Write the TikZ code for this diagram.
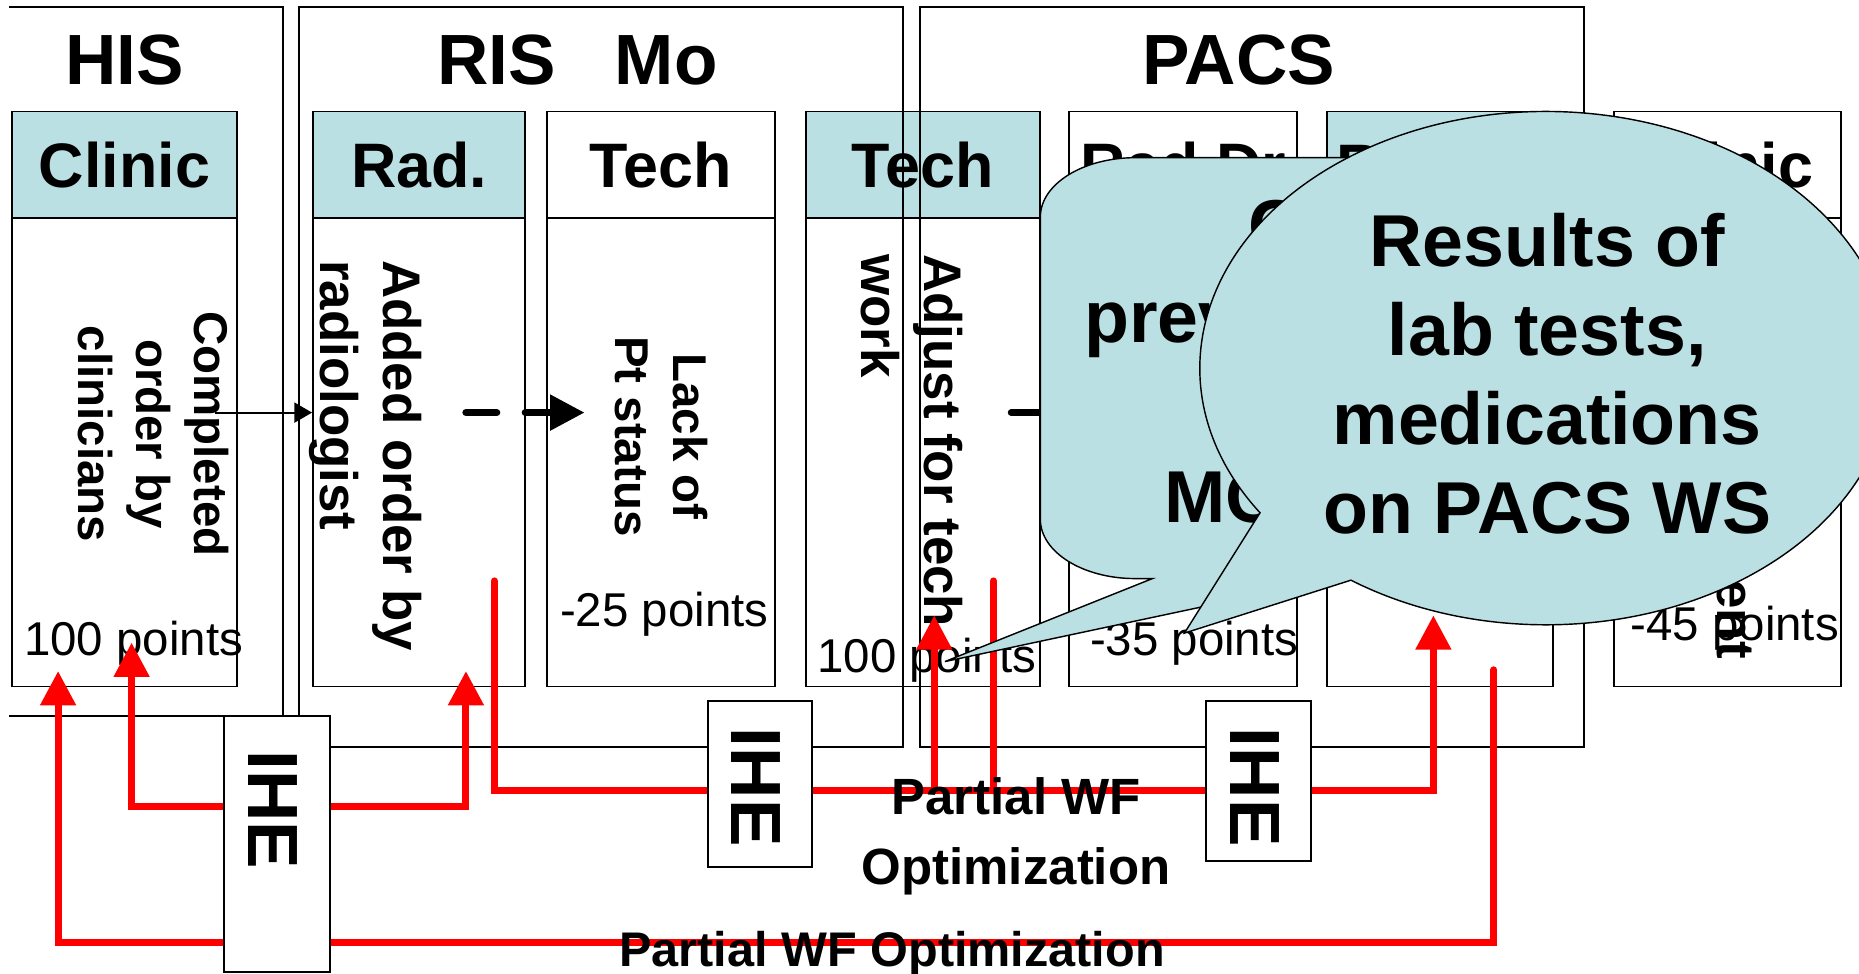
\documentclass[tikz,border=0pt]{standalone}
\usepackage{fontspec}
\setmainfont{Liberation Sans}
\usetikzlibrary{arrows.meta}
\definecolor{paleblue}{RGB}{187,224,227}

\begin{document}
\begin{tikzpicture}[x=0.5pt,y=-0.5pt,
  >={Triangle[length=14.5pt,width=14.5pt]},
  box/.style={draw,line width=0.8pt,inner sep=0pt},
  head/.style={box,minimum height=45pt,font=\bfseries\fontsize{26.5}{30}\selectfont},
  headtxt/.style={inner sep=0pt,font=\bfseries\fontsize{26.5}{30}\selectfont},
  body/.style={box,fill=white,minimum height=197.5pt},
  frame/.style={line width=0.8pt},
  title/.style={anchor=base,inner sep=0pt,font=\bfseries\fontsize{30}{36}\selectfont},
  vtext/.style={rotate=-90,inner sep=0pt},
  pts/.style={anchor=base west,inner sep=0pt,font=\fontsize{20}{24}\selectfont},
  flow/.style={red,line width=3pt,line cap=round},
  dashflow/.style={line width=3pt,line cap=round,dash pattern=on 13pt off 12pt,->},
  ihe/.style={box,fill=white},
  ihetxt/.style={vtext,font=\bfseries\fontsize{30}{36}\selectfont},
  wflabel/.style={inner sep=0pt,font=\bfseries\fontsize{21.5}{29.5}\selectfont},
  bubble/.style={draw,line width=0.6pt,fill=paleblue},
  calltxt/.style={inner sep=0pt,font=\bfseries\fontsize{31}{37.5}\selectfont}]
\useasboundingbox (0,0) rectangle (1568,821);

% columns: head, body
\node[head,fill=paleblue,minimum width=95pt] (clinichead) at (105,139) {Clinic};
\node[body,minimum width=95pt] (clinicbody) at (105,381.5) {};
\node[head,fill=paleblue,minimum width=89.5pt] (radhead) at (353.5,139) {Rad.};
\node[body,minimum width=89.5pt] (radbody) at (353.5,381.5) {};
\node[head,fill=white,minimum width=96.5pt] (techhead) at (557.5,139) {Tech};
\node[body,minimum width=96.5pt] (techbody) at (557.5,381.5) {};
\node[head,fill=paleblue,minimum width=98.5pt] (techbhead) at (778.5,139) {Tech};
\node[body,minimum width=98.5pt] (techbbody) at (778.5,381.5) {};
\node[head,fill=white,minimum width=96pt] (raddrhead) at (998,139) {Rad.Dr};
\node[body,minimum width=96pt] (raddrbody) at (998,381.5) {};
\node[head,fill=paleblue,minimum width=95.5pt] (rdrhead) at (1214.5,139) {};
\node[headtxt,anchor=base west] (rdrfrag) at (1127,159) {R};
\node[body,minimum width=95.5pt] (rdrbody) at (1214.5,381.5) {};
\node[head,fill=white,minimum width=96pt] (clinicbhead) at (1457,139) {Clinic};
\node[body,minimum width=96pt] (clinicbbody) at (1457,381.5) {};

% texts in the columns
\node[vtext,align=center,font=\bfseries\fontsize{20}{24.4}\selectfont] (cmpltxt) at (129.5,366) {Completed\\order by\\clinicians};
\node[vtext,align=left,anchor=west,font=\bfseries\fontsize{22.3}{26.5}\selectfont] (addtxt) at (308,219) {Added order by\\radiologist};
\node[vtext,align=center,font=\bfseries\fontsize{20}{24.65}\selectfont] (lacktxt) at (558,368) {Lack of\\Pt status};
\node[vtext,align=left,anchor=west,font=\bfseries\fontsize{22.3}{26.5}\selectfont] (adjtxt) at (769,214) {Adjust for tech\\work};
\node[vtext,anchor=base east,font=\bfseries\fontsize{22.3}{26}\selectfont] (entfrag) at (1449,556) {ent};
\node[pts] (clinicpts) at (20,553) {100 points};
\node[pts] (techpts) at (472,528) {-25 points};
\node[pts] (techbpts) at (689,567) {100 points};
\node[pts] (raddrpts) at (919,553) {-35 points};
\node[pts] (clinicbpts) at (1375,540) {-45 points};

% systems
\draw[frame] (8,6) -- (239,6) -- (239,604) -- (8,604);
\draw[frame] (252,6) rectangle (762,630);
\draw[frame] (776,6) rectangle (1336,630);
\node[title] (histitle) at (105,71) {HIS};
\node[title] (ristitle) at (487,71) {RIS~~~Mo};
\node[title] (pacstitle) at (1045,71) {PACS};

% black arrows
\coordinate (cmpl) at (181,348);
\draw[line width=0.8pt,-{Triangle[length=7.5pt,width=8.5pt]}] (cmpl) -- (cmpl -| radbody.west);
\coordinate (dash1) at (393,348);
\coordinate (dash2) at (493,348);
\draw[dashflow] (dash1) -- (dash2);
\coordinate (dash3) at (853,348);
\coordinate (dash4) at (950,348);
\draw[dashflow] (dash3) -- (dash4);

% red flows
\coordinate (fa1) at (111,542);
\coordinate (fa2) at (111,680);
\coordinate (fa3) at (393,680);
\coordinate (fa4) at (393,566);
\draw[flow,<->] (fa1) -- (fa2) -- (fa3) -- (fa4);
\coordinate (fb1) at (49,566);
\coordinate (fb2) at (49,795);
\coordinate (fb3) at (1260,795);
\coordinate (fb4) at (1260,565);
\draw[flow,<-] (fb1) -- (fb2) -- (fb3) -- (fb4);
\coordinate (fc1) at (417,490);
\coordinate (fc2) at (417,667);
\coordinate (fc3) at (1209,667);
\coordinate (fc4) at (1209,519);
\draw[flow,->] (fc1) -- (fc2) -- (fc3) -- (fc4);
\coordinate (fd1) at (838,490);
\draw[flow] (fd1) -- (fd1 |- fc2);
\coordinate (fe1) at (788,519);
\draw[flow,<-] (fe1) -- (fe1 |- fc2);

% IHE boxes
\node[ihe,minimum width=44.5pt,minimum height=108pt] (ihehis) at (233.5,712) {};
\node[ihetxt] (ihehistxt) at (230,683) {IHE};
\node[ihe,minimum width=44pt,minimum height=70pt] (iheris) at (641,661) {};
\node[ihetxt] (iheristxt) at (638,664) {IHE};
\node[ihe,minimum width=44.5pt,minimum height=67.5pt] (ihepacs) at (1061.5,658.5) {};
\node[ihetxt] (ihepacstxt) at (1058.5,664) {IHE};

\node[wflabel,align=center] (wfpart) at (857,705.5) {Partial WF\\Optimization};
\node[wflabel,anchor=base west,font=\bfseries\fontsize{20.5}{24}\selectfont] (wffull) at (522,815) {Partial WF Optimization};

% callouts
\draw[bubble] (972,488) -- (797,558) -- (1126,488) -- (1220,488)
  arc[start angle=90,end angle=0,x radius=80,y radius=50] -- (1300,183)
  arc[start angle=0,end angle=-90,x radius=80,y radius=50] -- (957.5,133)
  arc[start angle=-90,end angle=-180,x radius=80,y radius=50] -- (877.5,438)
  arc[start angle=180,end angle=90,x radius=80,y radius=50] -- cycle;
\node[calltxt,anchor=base west] (cfrag) at (1053,212) {C};
\node[calltxt,anchor=base west] (prevfrag) at (914,289) {prev};
\node[calltxt,anchor=base west] (mcfrag) at (982,441) {MC};

\coordinate (labc) at (1304,310.5);
\draw[bubble] (labc) ++(145.7:292 and 216.5)
  arc[start angle=145.7,end angle=484.3,x radius=292,y radius=216.5] -- (999,534) -- cycle;
\node[calltxt,align=center] (labtxt) at (1305,315) {Results of\\lab tests,\\medications\\on PACS WS};
\end{tikzpicture}
\end{document}
